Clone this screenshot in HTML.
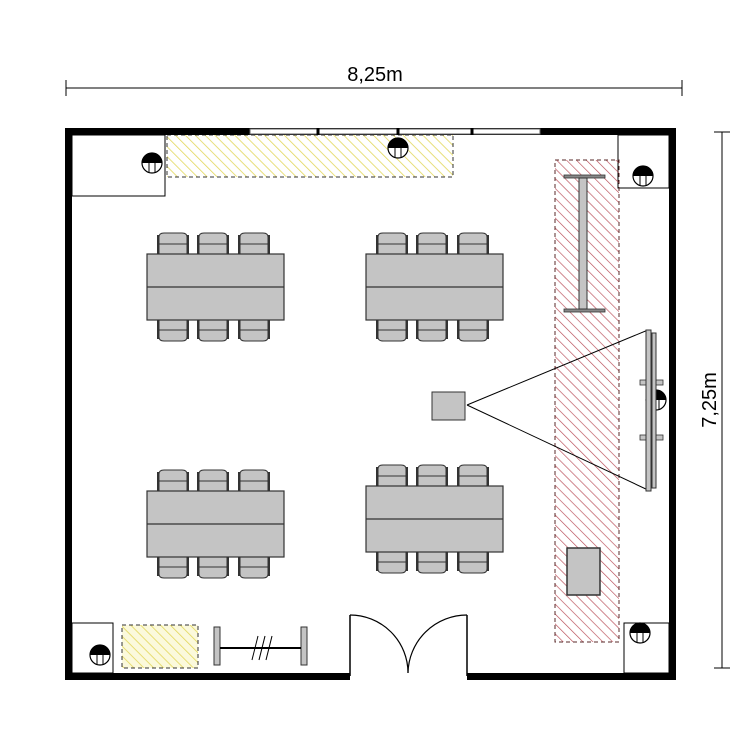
<!DOCTYPE html>
<html><head><meta charset="utf-8"><style>html,body{margin:0;padding:0;background:#fff}svg{display:block}</style></head>
<body>
<svg width="750" height="750" viewBox="0 0 750 750" xmlns="http://www.w3.org/2000/svg">
<defs>
<pattern id="yh" patternUnits="userSpaceOnUse" width="7" height="7" patternTransform="rotate(-45)">
<line x1="0" y1="0" x2="0" y2="7" stroke="#e2d75a" stroke-width="1.6"/></pattern>
<pattern id="rh" patternUnits="userSpaceOnUse" width="7" height="7" patternTransform="rotate(-45)">
<line x1="0" y1="0" x2="0" y2="7" stroke="#b84a55" stroke-width="1.3"/></pattern>
<g id="chair">
<path d="M2,22 L2,4 Q2,0 7,0 L25,0 Q30,0 30,4 L30,22 Z" fill="#c4c4c4" stroke="#333" stroke-width="1"/>
<line x1="2" y1="11" x2="30" y2="11" stroke="#333" stroke-width="1"/>
<rect x="0" y="2" width="2.5" height="20" fill="#333"/>
<rect x="29.5" y="2" width="2.5" height="20" fill="#333"/>
</g>
<g id="outlet">
<circle r="10" fill="#fff" stroke="#000" stroke-width="1.2"/>
<path d="M-10,0 A10,10 0 0 1 10,0 Z" fill="#000"/>
<line x1="-3" y1="-2" x2="-3" y2="9" stroke="#000"/>
<line x1="3" y1="-2" x2="3" y2="9" stroke="#000"/>
</g>
<g id="table">
<use href="#chair" x="10" y="-21"/><use href="#chair" x="50" y="-21"/><use href="#chair" x="91" y="-21"/>
<g transform="translate(0,66) scale(1,-1)"><use href="#chair" x="10" y="-21"/><use href="#chair" x="50" y="-21"/><use href="#chair" x="91" y="-21"/></g>
<rect x="0" y="0" width="137" height="66" fill="#c4c4c4" stroke="#333" stroke-width="1.2"/>
<line x1="0" y1="33" x2="137" y2="33" stroke="#333" stroke-width="1.2"/>
</g>
</defs>

<line x1="66" y1="88" x2="682" y2="88" stroke="#000"/>
<line x1="66" y1="80" x2="66" y2="96" stroke="#000"/>
<line x1="682" y1="80" x2="682" y2="96" stroke="#000"/>
<text x="375" y="81" font-family="Liberation Sans, sans-serif" font-size="20" text-anchor="middle">8,25m</text>
<line x1="722" y1="132" x2="722" y2="668" stroke="#000"/>
<line x1="714" y1="132" x2="730" y2="132" stroke="#000"/>
<line x1="714" y1="668" x2="730" y2="668" stroke="#000"/>
<text transform="translate(716,400) rotate(-90)" font-family="Liberation Sans, sans-serif" font-size="20" text-anchor="middle">7,25m</text>

<rect x="72" y="135" width="93" height="61" fill="#fff" stroke="#000"/>
<rect x="618" y="135" width="51" height="53" fill="#fff" stroke="#000"/>
<rect x="72" y="623" width="41" height="50" fill="#fff" stroke="#000"/>
<rect x="624" y="623" width="45" height="50" fill="#fff" stroke="#000"/>

<rect x="167" y="135" width="286" height="42" fill="url(#yh)" stroke="#333" stroke-dasharray="4,3"/>
<rect x="122" y="625" width="76" height="43" fill="#fbf9dc" stroke="none"/>
<rect x="122" y="625" width="76" height="43" fill="url(#yh)" stroke="#333" stroke-dasharray="4,3"/>
<rect x="555" y="160" width="64" height="482" fill="url(#rh)" stroke="#5a2a2a" stroke-dasharray="4,3"/>

<rect x="65" y="128" width="611" height="7" fill="#000"/>
<rect x="65" y="128" width="7" height="552" fill="#000"/>
<rect x="669" y="128" width="7" height="552" fill="#000"/>
<rect x="65" y="673" width="285" height="7" fill="#000"/>
<rect x="467" y="673" width="209" height="7" fill="#000"/>
<rect x="250" y="129" width="290" height="5" fill="#fff" stroke="#666"/>
<line x1="318" y1="128" x2="318" y2="135" stroke="#000" stroke-width="3"/>
<line x1="398" y1="128" x2="398" y2="135" stroke="#000" stroke-width="3"/>
<line x1="472" y1="128" x2="472" y2="135" stroke="#000" stroke-width="3"/>

<polyline points="350,676 350,615" fill="none" stroke="#000" stroke-width="1.5"/>
<polyline points="467,676 467,615" fill="none" stroke="#000" stroke-width="1.5"/>
<path d="M350,615 A58,58 0 0 1 408,673" fill="none" stroke="#000" stroke-width="1.2"/>
<path d="M467,615 A59,59 0 0 0 408,673" fill="none" stroke="#000" stroke-width="1.2"/>

<use href="#outlet" x="152" y="163"/>
<use href="#outlet" x="398" y="148"/>
<use href="#outlet" x="643" y="176"/>
<use href="#outlet" x="656" y="400"/>
<use href="#outlet" x="100" y="655"/>
<use href="#outlet" x="640" y="633"/>

<use href="#table" x="147" y="254"/>
<use href="#table" x="366" y="254"/>
<use href="#table" x="147" y="491"/>
<use href="#table" x="366" y="486"/>

<rect x="564" y="175" width="41" height="3" fill="#888" stroke="#333" stroke-width="0.8"/>
<rect x="564" y="309" width="41" height="3" fill="#888" stroke="#333" stroke-width="0.8"/>
<rect x="579" y="178" width="8" height="131" fill="#c4c4c4" stroke="#333"/>

<line x1="467" y1="405" x2="648" y2="330" stroke="#000"/>
<line x1="467" y1="405" x2="648" y2="490" stroke="#000"/>
<rect x="432" y="392" width="33" height="28" fill="#c4c4c4" stroke="#333"/>
<rect x="640" y="380" width="23" height="5" fill="#c4c4c4" stroke="#333" stroke-width="0.8"/>
<rect x="640" y="435" width="23" height="5" fill="#c4c4c4" stroke="#333" stroke-width="0.8"/>
<rect x="646" y="330" width="5" height="161" fill="#c4c4c4" stroke="#333"/>
<rect x="652" y="333" width="4" height="155" fill="#c4c4c4" stroke="#333"/>

<rect x="567" y="548" width="33" height="47" fill="#c4c4c4" stroke="#333" stroke-width="1.5"/>

<rect x="214" y="627" width="6" height="38" fill="#c4c4c4" stroke="#333"/>
<rect x="301" y="627" width="6" height="38" fill="#c4c4c4" stroke="#333"/>
<line x1="220" y1="648" x2="301" y2="648" stroke="#000" stroke-width="2"/>
<line x1="252" y1="660" x2="258" y2="636" stroke="#000"/>
<line x1="259" y1="660" x2="265" y2="636" stroke="#000"/>
<line x1="266" y1="660" x2="272" y2="636" stroke="#000"/>
</svg>
</body></html>
